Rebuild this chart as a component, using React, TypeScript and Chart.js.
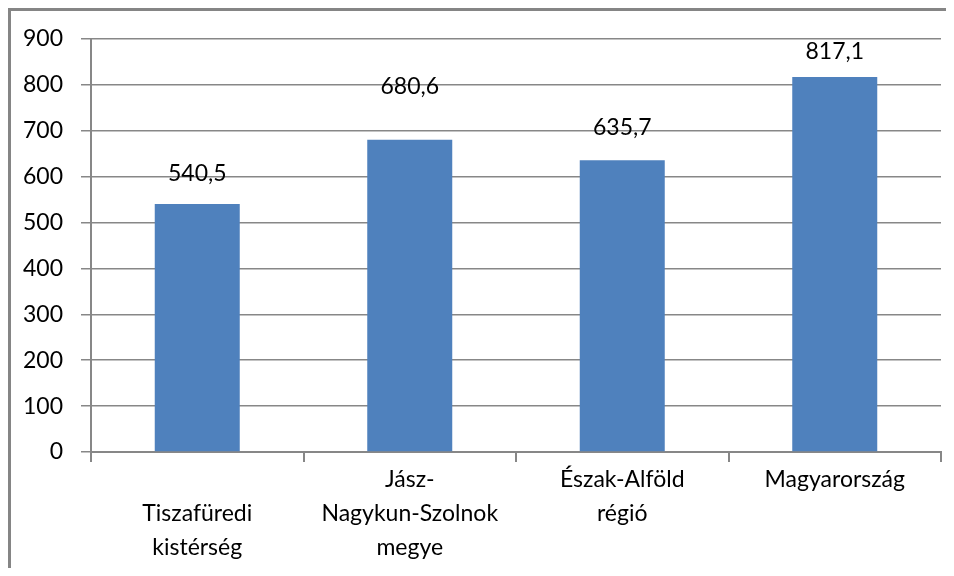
import React, { useEffect, useRef } from "react";
import { Chart, registerables } from "chart.js";

Chart.register(...registerables);

const categories: string[][] = [
  ["", "Tiszafüredi", "kistérség"],
  ["Jász-", "Nagykun-Szolnok", "megye"],
  ["Észak-Alföld", "régió"],
  ["Magyarország"],
];
const values: number[] = [540.5, 680.6, 635.7, 817.1];
const labelLift: number[] = [30, 53, 33, 25];
const yMin = 0;
const yMax = 900;
const yStep = 100;

const FONT = "Lato, 'Open Sans', sans-serif";
const GRID = "#878787";
const TEXT = "#000";

const valueLabels = {
  id: "valueLabels",
  afterDatasetsDraw(chart: any) {
    const ctx = chart.ctx;
    const meta = chart.getDatasetMeta(0);
    ctx.save();
    ctx.font = `23px ${FONT}`;
    ctx.fillStyle = TEXT;
    ctx.textAlign = "center";
    ctx.textBaseline = "middle";
    meta.data.forEach((bar: any, i: number) => {
      const v = values[i];
      const txt = v.toFixed(1).replace(".", ",");
      ctx.fillText(txt, bar.x, bar.y - labelLift[i]);
    });
    ctx.restore();
  },
};

export default function App() {
  const ref = useRef<HTMLCanvasElement>(null);
  useEffect(() => {
    if (!ref.current) return;
    const chart = new Chart(ref.current, {
      type: "bar",
      data: {
        labels: categories,
        datasets: [
          {
            data: values,
            backgroundColor: "#4F81BD",
            borderWidth: 0,
            categoryPercentage: 1,
            barPercentage: 0.4,
          },
        ],
      },
      options: {
        responsive: false,
        animation: false,
        layout: { padding: { top: 28, right: 13, bottom: 0, left: 0 } },
        plugins: {
          legend: { display: false },
          tooltip: { enabled: false },
          title: { display: false },
        },
        scales: {
          x: {
            offset: true,
            grid: {
              offset: true,
              drawOnChartArea: false,
              drawTicks: true,
              tickLength: 10,
              color: GRID,
              lineWidth: 2,
            },
            border: { display: true, color: GRID, width: 2 },
            ticks: {
              font: { family: FONT, size: 23, lineHeight: "34px" } as any,
              color: TEXT,
              padding: 1,
              maxRotation: 0,
              autoSkip: false,
            },
            afterFit(scale: any) {
              scale.height = 116;
            },
          },
          y: {
            min: yMin,
            max: yMax,
            grid: {
              color: GRID,
              lineWidth: 1.5,
              tickLength: 10,
            },
            border: { display: true, color: GRID, width: 2 },
            ticks: {
              stepSize: yStep,
              font: { family: FONT, size: 23 },
              color: TEXT,
              padding: 18,
            },
            afterFit(scale: any) {
              scale.width = 80;
              scale.paddingTop = 0;
              scale.paddingBottom = 0;
            },
          },
        },
      },
      plugins: [valueLabels],
    });
    return () => chart.destroy();
  }, []);
  return (
    <div
      style={{
        width: 946,
        height: 560,
        borderTop: "3px solid #858585",
        borderLeft: "3px solid #858585",
        boxSizing: "border-box",
        background: "#fff",
      }}
    >
      <canvas ref={ref} width={943} height={557} style={{ display: "block" }} />
    </div>
  );
}
